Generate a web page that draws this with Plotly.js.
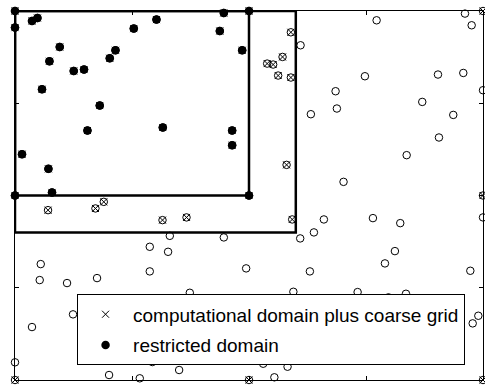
<!DOCTYPE html>
<html>
<head>
<meta charset="utf-8">
<script src="https://cdn.plot.ly/plotly-3.0.1.min.js"></script>
<style>html,body{margin:0;padding:0;background:#fff;}#chart{width:485px;height:385px;}</style>
</head>
<body>
<div id="chart"></div>
<script>
// Coarse grid points
const gridX = [0, 0.5, 1, 0, 0.5, 1, 0, 0.5, 1];
const gridY = [0, 0, 0, 0.5, 0.5, 0.5, 1, 1, 1];
// Coarse grid points that lie in the restricted domain
const gridRestrX = [0, 0.5, 0, 0.5];
const gridRestrY = [0.5, 0.5, 1, 1];

// Points inside the restricted domain
const restrX = [0.0363, 0.0479, 0, 0.0956, 0.0736, 0.0577, 0.1255, 0.1475, 0.2025, 0.2147, 0.2538, 0.3023,
  0.4462, 0.4377, 0.4854, 0.1811, 0.1548, 0.3158, 0.464, 0.464, 0.015, 0.0714, 0.0791];
const restrY = [0.973, 0.981, 0.955, 0.9025, 0.8638, 0.788, 0.8375, 0.8413, 0.872, 0.8936, 0.9523, 0.9767,
  0.9946, 0.9458, 0.8936, 0.7438, 0.6761, 0.6843, 0.6761, 0.6363, 0.612, 0.5722, 0.5083];

// Extra points of the computational domain (outside the restricted domain)
const compX = [0.5895, 0.5717, 0.5388, 0.5516, 0.5623, 0.5895, 0.5803, 0.0706, 0.1719, 0.1897, 0.3152, 0.3665, 0.5923];
const compY = [0.9423, 0.8755, 0.8575, 0.8549, 0.8251, 0.8197, 0.583, 0.4603, 0.4649, 0.4828, 0.4333, 0.4406, 0.4351];

// Remaining points
const otherX = [0.7727, 0.9615, 0.9758, 0.6102, 0.7477, 0.9038, 0.9579, 1, 0.685, 0.6878, 0.6322, 0.8702,
  0.9365, 0.9059, 0.8369, 0.702,
  0.3308, 0.4462, 0.288, 0.3271, 0.055, 0.0528, 0.1112, 0.1753, 0.288, 0.4939, 0.3735, 0.124, 0.0363,
  0, 0.2934, 0.3507, 0.201, 0.2666, 0.4627, 0.5303, 0.5824, 0.5542, 0.66, 0.6387, 0.6094, 0.7648,
  0.8232, 1, 0.8118, 0.7905, 0.9729, 0.6301, 0.5948, 0.7321, 0.798, 0.8354, 0.99, 0.978];
const otherY = [0.9748, 0.993, 0.9613, 0.9071, 0.8232, 0.8278, 0.8321, 0.7853, 0.7826, 0.7357, 0.7203, 0.7536,
  0.7184, 0.6572, 0.6093, 0.537,
  0.3907, 0.3864, 0.361, 0.3474, 0.3141, 0.2708, 0.2627, 0.2762, 0.2943, 0.3025, 0.2364, 0.1779, 0.1435,
  0.0479, 0.0487, 0.0271, 0.0135, 0.0046, 0.0555, 0.0441, 0.036, 0.0073, 0.4351, 0.4, 0.3837, 0.4387,
  0.4251, 0.4406, 0.3493, 0.316, 0.296, 0.2943, 0.2391, 0.2383, 0.2239, 0.2337, 0.1741, 0.1535];

// Domain rectangles [x0, x1, y0, y1]
const restrictedBox = [0, 0.5, 0.5, 1];
const computationalBox = [0, 0.6, 0.4, 1];

const legendLabels = ['computational domain plus coarse grid', 'restricted domain'];

function boxTrace(b) {
  return {
    x: [b[0], b[1], b[1], b[0], b[0]],
    y: [b[2], b[2], b[3], b[3], b[2]],
    mode: 'lines', type: 'scatter', showlegend: false, hoverinfo: 'skip',
    line: {color: '#000', width: 2.5}
  };
}

const allX = gridX.concat(restrX, compX, otherX);
const allY = gridY.concat(restrY, compY, otherY);
const cX = gridX.concat(restrX, compX);
const cY = gridY.concat(restrY, compY);
const rX = gridRestrX.concat(restrX);
const rY = gridRestrY.concat(restrY);

const traces = [
  boxTrace(computationalBox),
  boxTrace(restrictedBox),
  {x: allX, y: allY, type: 'scatter', mode: 'markers', showlegend: false, cliponaxis: false,
   marker: {symbol: 'circle-open', size: 7.5, color: '#000', line: {width: 1, color: '#000'}}},
  {x: cX, y: cY, type: 'scatter', mode: 'markers', name: legendLabels[0], cliponaxis: false, legendgroup: 'a',
   marker: {symbol: 'x-thin-open', size: 7, color: '#000', line: {width: 1, color: '#000'}}},
  {x: rX, y: rY, type: 'scatter', mode: 'markers', name: legendLabels[1], cliponaxis: false, legendgroup: 'b',
   marker: {symbol: 'circle', size: 8.5, color: '#000', line: {width: 0}}}
];

const axisCommon = {
  range: [0, 1], showgrid: false, zeroline: false, showline: true, linecolor: '#000', linewidth: 1,
  mirror: 'ticks', ticks: 'inside', ticklen: 4, tickwidth: 1, tickcolor: '#000',
  tick0: 0, dtick: 0.25, showticklabels: false
};

const layout = {
  width: 485, height: 385,
  margin: {l: 15, r: 2, t: 11, b: 5},
  paper_bgcolor: '#fff', plot_bgcolor: '#fff',
  font: {family: 'Liberation Sans, Arial, sans-serif', color: '#000'},
  xaxis: Object.assign({}, axisCommon),
  yaxis: Object.assign({}, axisCommon),
  showlegend: true,
  legend: {
    x: 0.1326, y: 0.232, xanchor: 'left', yanchor: 'top',
    bgcolor: '#fff', bordercolor: '#000', borderwidth: 1,
    font: {size: 19, family: 'Liberation Sans, Arial, sans-serif', color: '#000'},
    itemwidth: 45, traceorder: 'grouped', tracegroupgap: 3
  }
};

Plotly.newPlot('chart', traces, layout, {staticPlot: true, displayModeBar: false});
</script>
</body>
</html>
